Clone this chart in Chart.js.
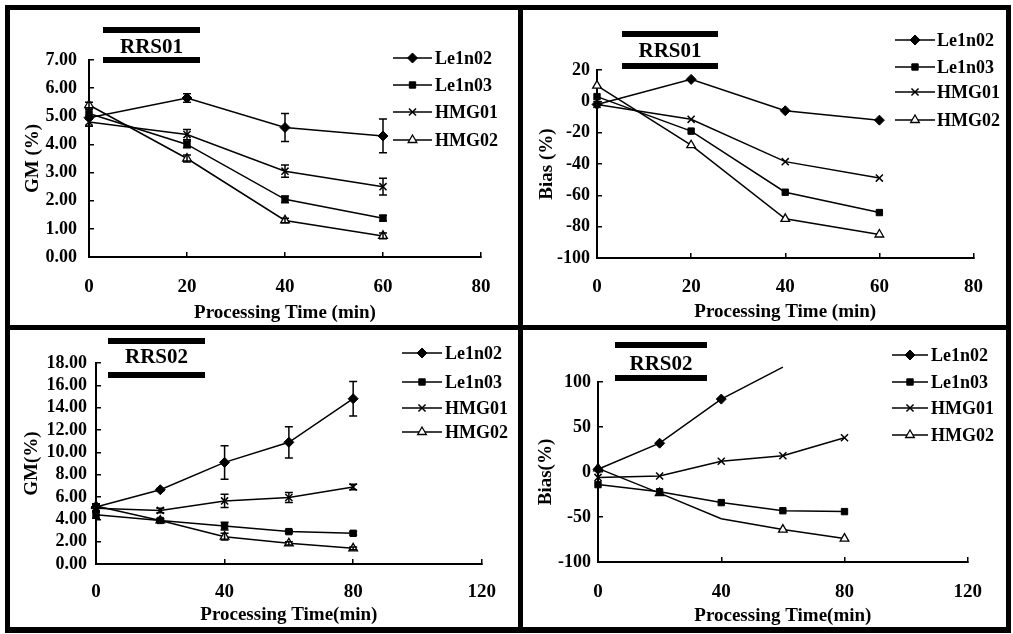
<!DOCTYPE html>
<html>
<head>
<meta charset="utf-8">
<script src="https://cdn.jsdelivr.net/npm/chart.js@4.4.0/dist/chart.umd.min.js"></script>
<style>
  body { margin: 0; background: #fff; }
  #fig { position: relative; width: 1013px; height: 634px; background: #fff; overflow: hidden; }
  .bar { position: absolute; background: #000; }
  .pane { position: absolute; }
</style>
</head>
<body>
<div id="fig">
  <div class="bar" style="left:5px;top:5px;width:1006px;height:5px"></div>
  <div class="bar" style="left:5px;top:627px;width:1006px;height:6px"></div>
  <div class="bar" style="left:5px;top:5px;width:5px;height:628px"></div>
  <div class="bar" style="left:1006px;top:5px;width:5px;height:628px"></div>
  <div class="bar" style="left:518px;top:5px;width:5px;height:628px"></div>
  <div class="bar" style="left:5px;top:325px;width:1006px;height:5px"></div>
  <div class="pane" style="left:10px;top:10px;width:508px;height:315px"><canvas id="c1"></canvas></div>
  <div class="pane" style="left:523px;top:10px;width:483px;height:315px"><canvas id="c2"></canvas></div>
  <div class="pane" style="left:10px;top:330px;width:508px;height:297px"><canvas id="c3"></canvas></div>
  <div class="pane" style="left:523px;top:330px;width:483px;height:297px"><canvas id="c4"></canvas></div>
</div>
<script>
const seriesNames = ['Le1n02', 'Le1n03', 'HMG01', 'HMG02'];
const timesRRS01 = [0, 20, 40, 60];
const timesRRS02 = [0, 20, 40, 60, 80];

// RRS01 GM (%)
const gm01Le1n02 = [4.95, 5.65, 4.6, 4.3];
const gm01Le1n03 = [5.1, 4.0, 2.05, 1.38];
const gm01HMG01 = [4.8, 4.35, 3.05, 2.5];
const gm01HMG02 = [5.4, 3.5, 1.3, 0.75];
const gm01ErrLe1n02 = [0.3, 0.15, 0.5, 0.6];
const gm01ErrLe1n03 = [0.2, 0.12, 0.12, 0.1];
const gm01ErrHMG01 = [0.15, 0.18, 0.22, 0.3];
const gm01ErrHMG02 = [0.1, 0.12, 0.08, 0.1];

// RRS01 Bias (%)
const bias01Le1n02 = [-2, 14, -6, -12];
const bias01Le1n03 = [3, -19, -58, -71];
const bias01HMG01 = [-2, -11.5, -38.5, -49];
const bias01HMG02 = [10, -28, -75, -85];

// RRS02 GM (%)
const gm02Le1n02 = [5.1, 6.65, 9.1, 10.9, 14.8];
const gm02Le1n03 = [4.4, 3.9, 3.4, 2.9, 2.75];
const gm02HMG01 = [5.0, 4.8, 5.65, 5.95, 6.9];
const gm02HMG02 = [5.2, 3.9, 2.45, 1.85, 1.4];
const gm02ErrLe1n02 = [0.3, 0.12, 1.5, 1.4, 1.55];
const gm02ErrLe1n03 = [0.3, 0.1, 0.35, 0.12, 0.15];
const gm02ErrHMG01 = [0.35, 0.2, 0.6, 0.45, 0.25];
const gm02ErrHMG02 = [0.1, 0.15, 0.3, 0.15, 0.12];

// RRS02 Bias (%)
const bias02Le1n02 = [3, 32, 81, 116.5];
const bias02Le1n03 = [-14, -22, -34, -43, -44];
const bias02HMG01 = [-6, -4.5, 12, 18, 38];
const bias02HMG02 = [4, -23.5, -52, -64, -74];

const FONT = '"Liberation Serif", "Times New Roman", serif';
const marks = [
  { style: 'rectRot', r: 5, fill: '#000', bw: 1 },
  { style: 'rect', r: 4.5, fill: '#000', bw: 1 },
  { style: 'crossRot', r: 5, fill: '#000', bw: 1.5 },
  { style: 'triangle', r: 5, fill: '#fff', bw: 1.3 }
];

// vertical error bars with caps
const errorBars = {
  id: 'errorBars',
  afterDatasetsDraw(chart) {
    const ctx = chart.ctx;
    const ys = chart.scales.y;
    ctx.save();
    ctx.strokeStyle = '#000';
    ctx.lineWidth = 1.5;
    chart.data.datasets.forEach((ds, i) => {
      if (!ds.errors) return;
      const meta = chart.getDatasetMeta(i);
      meta.data.forEach((pt, k) => {
        const e = ds.errors[k];
        if (!e) return;
        const v = ds.data[k].y;
        const top = ys.getPixelForValue(v + e);
        const bot = ys.getPixelForValue(v - e);
        ctx.beginPath();
        ctx.moveTo(pt.x, top); ctx.lineTo(pt.x, bot);
        ctx.moveTo(pt.x - 4, top); ctx.lineTo(pt.x + 4, top);
        ctx.moveTo(pt.x - 4, bot); ctx.lineTo(pt.x + 4, bot);
        ctx.stroke();
      });
    });
    ctx.restore();
  }
};

// panel label with bars and the line/marker legend
const decor = {
  id: 'decor',
  afterDraw(chart, args, o) {
    const ctx = chart.ctx;
    ctx.save();
    ctx.fillStyle = '#000';
    ctx.fillRect(o.box.x0, o.box.top, o.box.x1 - o.box.x0, 6);
    ctx.fillRect(o.box.x0, o.box.bottom, o.box.x1 - o.box.x0, 6);
    ctx.font = 'bold 21px ' + FONT;
    ctx.textAlign = 'center';
    ctx.textBaseline = 'middle';
    ctx.fillText(o.title, (o.box.x0 + o.box.x1) / 2, o.box.textY);

    chart.data.datasets.forEach((ds, i) => {
      const y = o.legend.rows[i];
      ctx.strokeStyle = '#000';
      ctx.lineWidth = 1.5;
      ctx.beginPath();
      ctx.moveTo(o.legend.x0, y); ctx.lineTo(o.legend.x1, y);
      ctx.stroke();
      ctx.fillStyle = marks[i].fill;
      ctx.strokeStyle = '#000';
      ctx.lineWidth = marks[i].bw;
      Chart.helpers.drawPoint(ctx, {
        pointStyle: marks[i].style, radius: marks[i].r, rotation: 0, borderWidth: marks[i].bw
      }, (o.legend.x0 + o.legend.x1) / 2, y);
      ctx.fillStyle = '#000';
      ctx.font = 'bold 18px ' + FONT;
      ctx.textAlign = 'left';
      ctx.fillText(ds.label, o.legend.tx, y + 1);
    });
    ctx.restore();
  }
};

function buildChart(id, p) {
  const datasets = seriesNames.map((name, i) => ({
    label: name,
    data: p.values[i].map((v, k) => ({ x: p.times[k], y: v })),
    errors: p.errors ? p.errors[i] : null,
    borderColor: '#000',
    borderWidth: 1.5,
    backgroundColor: marks[i].fill,
    pointStyle: marks[i].style,
    pointRadius: p.radii && p.radii[i] ? p.radii[i] : marks[i].r,
    pointBackgroundColor: marks[i].fill,
    pointBorderColor: '#000',
    pointBorderWidth: marks[i].bw,
    tension: 0,
    clip: false
  }));

  return new Chart(document.getElementById(id), {
    type: 'line',
    data: { datasets },
    options: {
      responsive: true,
      maintainAspectRatio: false,
      animation: false,
      layout: { padding: { left: 0, right: p.padR, top: p.padT, bottom: 0 } },
      plugins: {
        legend: { display: false },
        tooltip: { enabled: false },
        decor: { title: p.title, box: p.box, legend: p.legend }
      },
      scales: {
        x: {
          type: 'linear',
          min: p.xMin, max: p.xMax,
          ticks: { stepSize: p.xStep, autoSkip: false, color: '#000', font: { family: FONT, size: 19, weight: 'bold' }, padding: p.xTickPad, maxRotation: 0 },
          grid: { display: true, drawOnChartArea: false, drawTicks: true, tickLength: -5, color: '#000', lineWidth: 1.5 },
          border: { display: true, color: '#000', width: 2 },
          title: { display: true, text: p.xTitle, color: '#000', font: { family: FONT, size: 19, weight: 'bold' }, padding: { top: 0, bottom: p.xTitlePad } },
          afterFit: s => { s.height = p.xAxisH; }
        },
        y: {
          min: p.yMin, max: p.yMax,
          ticks: { stepSize: p.yStep, autoSkip: false, color: '#000', font: { family: FONT, size: 18, weight: 'bold' }, padding: p.yTickPad, callback: p.yFmt },
          grid: { display: true, drawOnChartArea: false, drawTicks: true, tickLength: -5, color: '#000', lineWidth: 1.5 },
          border: { display: true, color: '#000', width: 2 },
          title: { display: true, text: p.yTitle, color: '#000', font: { family: FONT, size: 19, weight: 'bold' }, padding: { top: p.yTitlePad, bottom: 0 } },
          afterFit: s => { s.width = p.yAxisW; }
        }
      }
    },
    plugins: [errorBars, decor]
  });
}

const fmt2 = v => v.toFixed(2);
const fmt0 = v => String(v);

buildChart('c1', {
  times: timesRRS01,
  values: [gm01Le1n02, gm01Le1n03, gm01HMG01, gm01HMG02],
  errors: [gm01ErrLe1n02, gm01ErrLe1n03, gm01ErrHMG01, gm01ErrHMG02],
  xMin: 0, xMax: 80, xStep: 20, yMin: 0, yMax: 7, yStep: 1, yFmt: fmt2,
  xTitle: 'Processing Time (min)', yTitle: 'GM (%)',
  yAxisW: 79, padR: 37, padT: 50, xAxisH: 68,
  yTickPad: 17, xTickPad: 24, xTitlePad: 1, yTitlePad: 12,
  title: 'RRS01', box: { x0: 93, x1: 190, top: 17, bottom: 47, textY: 38 },
  legend: { x0: 383, x1: 422, tx: 425, rows: [48, 75, 102, 130] }
});

buildChart('c2', {
  times: timesRRS01,
  values: [bias01Le1n02, bias01Le1n03, bias01HMG01, bias01HMG02],
  xMin: 0, xMax: 80, xStep: 20, yMin: -100, yMax: 20, yStep: 20, yFmt: fmt0,
  xTitle: 'Processing Time (min)', yTitle: 'Bias (%)',
  yAxisW: 74, padR: 20, padT: 60, xAxisH: 67,
  yTickPad: 12, xTickPad: 23, xTitlePad: 2, yTitlePad: 13,
  title: 'RRS01', box: { x0: 99, x1: 195, top: 21, bottom: 53, textY: 42 },
  legend: { x0: 372, x1: 412, tx: 414, rows: [30, 57, 82, 110] }
});

buildChart('c3', {
  times: timesRRS02,
  values: [gm02Le1n02, gm02Le1n03, gm02HMG01, gm02HMG02],
  errors: [gm02ErrLe1n02, gm02ErrLe1n03, gm02ErrHMG01, gm02ErrHMG02],
  xMin: 0, xMax: 120, xStep: 40, yMin: 0, yMax: 18, yStep: 2, yFmt: fmt2,
  xTitle: 'Processing Time(min)', yTitle: 'GM(%)',
  yAxisW: 86, padR: 35, padT: 33, xAxisH: 63,
  yTickPad: 14, xTickPad: 22, xTitlePad: 1, yTitlePad: 11,
  title: 'RRS02', box: { x0: 98, x1: 195, top: 8, bottom: 42, textY: 28 },
  legend: { x0: 392, x1: 432, tx: 435, rows: [23, 52, 78, 102] }
});

buildChart('c4', {
  times: timesRRS02,
  values: [bias02Le1n02, bias02Le1n03, bias02HMG01, bias02HMG02],
  radii: [[5, 5, 5, 0], null, null, [5, 5, 0, 5, 5]],
  xMin: 0, xMax: 120, xStep: 40, yMin: -100, yMax: 100, yStep: 50, yFmt: fmt0,
  xTitle: 'Processing Time(min)', yTitle: 'Bias(%)',
  yAxisW: 75, padR: 28, padT: 52, xAxisH: 65,
  yTickPad: 12, xTickPad: 24, xTitlePad: 0, yTitlePad: 12,
  title: 'RRS02', box: { x0: 92, x1: 184, top: 12, bottom: 45, textY: 35 },
  legend: { x0: 369, x1: 405, tx: 408, rows: [25, 52, 78, 105] }
});
</script>
</body>
</html>
